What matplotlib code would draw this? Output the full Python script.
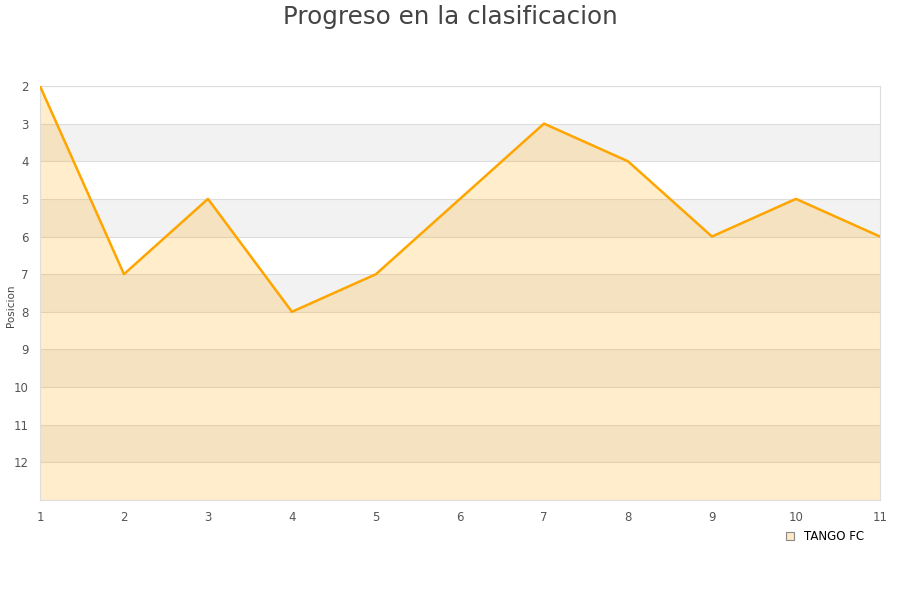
import matplotlib.pyplot as plt
from matplotlib.patches import Patch

jornadas = [1, 2, 3, 4, 5, 6, 7, 8, 9, 10, 11]
posicion = [2, 7, 5, 8, 7, 5, 3, 4, 6, 5, 6]
equipo = "TANGO FC"

fig = plt.figure(figsize=(9, 6), dpi=100)
ax = fig.add_axes([0.0444, 0.1667, 0.9333, 0.69])

# alternating bands
for y in range(3, 13, 2):
    ax.axhspan(y, y + 1, color="#f2f2f2", zorder=0, lw=0)
for y in range(2, 14):
    ax.axhline(y, color="#dddddd", lw=0.8, zorder=1)

ax.fill_between(jornadas, posicion, 13, color="#ffa500", alpha=0.2, lw=0, zorder=2)
ax.plot(jornadas, posicion, color="#ffa500", lw=1.8, zorder=3)

ax.set_xlim(1, 11)
ax.set_ylim(13, 2)
ax.set_xticks(jornadas)
ax.set_yticks(range(2, 13))
ax.tick_params(length=0, labelsize=8.5, colors="#555555", pad=8)
for s in ax.spines.values():
    s.set_color("#dddddd")

fig.text(0.012, 0.49, "Posicion", rotation=90, ha="center", va="center",
         fontsize=7.5, color="#444444")

fig.text(0.5, 0.992, "Progreso en la clasificacion", ha="center", va="top",
         fontsize=17.7, color="#444444")

ax.legend(handles=[Patch(facecolor="#ffe9c4", edgecolor="#888888", lw=0.8, label=equipo)],
          loc="center left", bbox_to_anchor=(0.881, -0.088), frameon=False, fontsize=8.5,
          handlelength=0.7, handleheight=0.7, handletextpad=0.8, borderpad=0)

plt.savefig("out.png")
